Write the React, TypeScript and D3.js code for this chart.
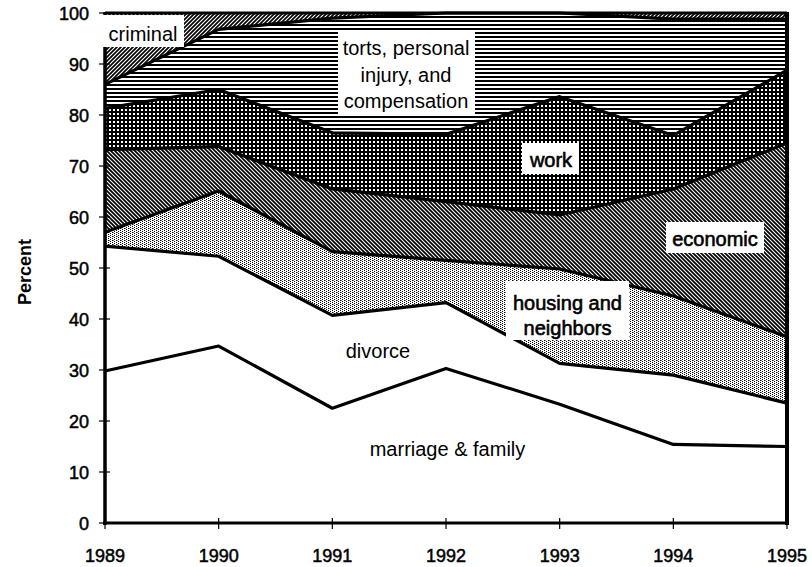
import { useEffect, useRef } from "react";
import * as d3 from "d3";

// share of cases by type, percent of year total (stacked bottom -> top)
const years = [1989, 1990, 1991, 1992, 1993, 1994, 1995];
const marriageFamily = [29.8, 34.7, 22.5, 30.3, 23.3, 15.4, 15.0];
const divorce = [24.5, 17.6, 18.2, 12.9, 8.0, 13.6, 8.5];
const housing = [2.7, 12.8, 12.5, 8.3, 18.5, 15.5, 13.0];
const economic = [16.2, 8.7, 12.3, 11.5, 10.6, 21.0, 38.0];
const work = [8.1, 11.2, 11.0, 13.2, 23.2, 10.5, 14.3];
const torts = [4.7, 11.8, 22.5, 23.8, 16.4, 22.8, 10.0];
const criminal = [14.0, 3.2, 1.0, 0, 0, 1.2, 1.2];

const seriesKeys = ["marriage", "divorce", "housing", "economic", "work", "torts", "criminal"];
const seriesValues = [marriageFamily, divorce, housing, economic, work, torts, criminal];
const seriesFills = ["#fff", "#fff", "url(#dots)", "url(#back)", "url(#grid)", "url(#hlines)", "url(#fwd)"];
const yTicks = [0, 10, 20, 30, 40, 50, 60, 70, 80, 90, 100];

const FONT = "'Liberation Sans', Arial, Helvetica, sans-serif";

const App = () => {
    const container = useRef<HTMLDivElement>(null);

    useEffect(() => {
        document.body.style.margin = "0";
        const el = container.current;
        if (!el) return;
        el.innerHTML = "";

        const W = 812, H = 567;
        const margin = { top: 13, right: 25, bottom: 44, left: 105 };

        const svg = d3.select(el)
            .append("svg")
            .attr("width", W)
            .attr("height", H)
            .style("display", "block")
            .style("font-family", FONT);

        svg.append("rect").attr("width", W).attr("height", H).attr("fill", "#fff");

        const defs = svg.append("defs");

        // forward hatch for criminal
        const fwd = defs.append("pattern").attr("id", "fwd")
            .attr("patternUnits", "userSpaceOnUse").attr("width", 4).attr("height", 4);
        fwd.append("rect").attr("width", 4).attr("height", 4).attr("fill", "#fff");
        fwd.append("path").attr("d", "M-1,1 l2,-2 M0,4 l4,-4 M3,5 l2,-2")
            .attr("stroke", "#000").attr("stroke-width", 1.7);

        // back hatch for economic
        const back = defs.append("pattern").attr("id", "back")
            .attr("patternUnits", "userSpaceOnUse").attr("width", 4).attr("height", 4);
        back.append("rect").attr("width", 4).attr("height", 4).attr("fill", "#fff");
        back.append("path").attr("d", "M-1,3 l2,2 M0,0 l4,4 M3,-1 l2,2")
            .attr("stroke", "#000").attr("stroke-width", 1.8);

        // horizontal lines for torts
        const hl = defs.append("pattern").attr("id", "hlines")
            .attr("patternUnits", "userSpaceOnUse").attr("width", 4).attr("height", 4);
        hl.append("rect").attr("width", 4).attr("height", 4).attr("fill", "#fff");
        hl.append("rect").attr("width", 4).attr("height", 2).attr("fill", "#000");

        // dark grid for work
        const grid = defs.append("pattern").attr("id", "grid")
            .attr("patternUnits", "userSpaceOnUse").attr("width", 4).attr("height", 4);
        grid.append("rect").attr("width", 4).attr("height", 4).attr("fill", "#000");
        grid.append("rect").attr("x", 1).attr("y", 1).attr("width", 2).attr("height", 2).attr("fill", "#fff");

        // light stipple for housing
        const dots = defs.append("pattern").attr("id", "dots")
            .attr("patternUnits", "userSpaceOnUse").attr("width", 4).attr("height", 4);
        dots.append("rect").attr("width", 4).attr("height", 4).attr("fill", "#fff");
        dots.append("rect").attr("x", 0).attr("y", 0).attr("width", 1).attr("height", 1).attr("fill", "#000");
        dots.append("rect").attr("x", 2).attr("y", 1).attr("width", 1).attr("height", 1).attr("fill", "#000");
        dots.append("rect").attr("x", 0).attr("y", 2).attr("width", 1).attr("height", 1).attr("fill", "#000");
        dots.append("rect").attr("x", 2).attr("y", 3).attr("width", 1).attr("height", 1).attr("fill", "#000");
        dots.append("rect").attr("x", 1).attr("y", 0).attr("width", 1).attr("height", 1).attr("fill", "#888");

        const x = d3.scaleLinear()
            .domain([years[0], years[years.length - 1]])
            .range([margin.left, W - margin.right]);

        const y = d3.scaleLinear()
            .domain([0, 100])
            .range([H - margin.bottom, margin.top]);

        const table = years.map((yr, i) => {
            const row: any = { year: yr };
            seriesKeys.forEach((k, j) => { row[k] = seriesValues[j][i]; });
            return row;
        });

        const stacked = d3.stack().keys(seriesKeys)(table);

        const area = d3.area<any>()
            .x((d) => x(d.data.year))
            .y0((d) => y(d[0]))
            .y1((d) => y(d[1]));

        const topLine = d3.line<any>()
            .x((d) => x(d.data.year))
            .y((d) => y(d[1]));

        svg.append("g").selectAll("path")
            .data(stacked)
            .join("path")
            .attr("d", (d) => area(d))
            .attr("fill", (d, i) => seriesFills[i]);

        svg.append("g").selectAll("path")
            .data(stacked)
            .join("path")
            .attr("d", (d) => topLine(d))
            .attr("fill", "none")
            .attr("stroke", "#000")
            .attr("stroke-width", 3.2)
            .attr("stroke-linejoin", "round");

        // frame / axes
        const x0 = x(years[0]), x1 = x(years[years.length - 1]);
        svg.append("line").attr("x1", x0).attr("x2", x0).attr("y1", y(0) + 2).attr("y2", y(100) - 1)
            .attr("stroke", "#000").attr("stroke-width", 3.5);
        svg.append("line").attr("x1", x1).attr("x2", x1).attr("y1", y(0) + 2).attr("y2", y(100) - 1)
            .attr("stroke", "#000").attr("stroke-width", 4);
        svg.append("line").attr("x1", x0 - 2).attr("x2", x1 + 2).attr("y1", y(0)).attr("y2", y(0))
            .attr("stroke", "#000").attr("stroke-width", 3);

        svg.append("g").selectAll("line")
            .data(yTicks)
            .join("line")
            .attr("x1", x0 - 6).attr("x2", x0 + 5)
            .attr("y1", (d) => y(d)).attr("y2", (d) => y(d))
            .attr("stroke", "#000").attr("stroke-width", 1.2);

        svg.append("g").selectAll("line")
            .data(years)
            .join("line")
            .attr("x1", (d) => x(d)).attr("x2", (d) => x(d))
            .attr("y1", y(0) - 5).attr("y2", y(0) + 6)
            .attr("stroke", "#000").attr("stroke-width", 1.2);

        // label boxes
        const box = (bx: number, by: number, bw: number, bh: number) => {
            svg.append("rect").attr("x", bx).attr("y", by).attr("width", bw).attr("height", bh).attr("fill", "#fff");
        };
        const label = (tx: number, ty: number, txt: string, heavy: boolean) => {
            svg.append("text").attr("x", tx).attr("y", ty).text(txt)
                .attr("text-anchor", "middle")
                .attr("fill", "#000")
                .attr("stroke", heavy ? "#000" : "none")
                .attr("stroke-width", heavy ? 0.6 : 0)
                .style("font-size", "20px");
        };

        box(100, 15, 84, 32);
        label(143, 41, "criminal", false);

        box(338, 30, 137, 85);
        label(406, 55, "torts, personal", false);
        label(406, 81.5, "injury, and", false);
        label(406, 108, "compensation", false);

        box(522, 143, 57, 31);
        label(551, 167, "work", true);

        box(666, 222, 98, 31);
        label(715, 246, "economic", true);

        box(506, 281, 123, 59);
        label(567.5, 310, "housing and", true);
        label(567.5, 335, "neighbors", true);

        label(378, 358, "divorce", false);
        label(447.5, 456, "marriage & family", false);

        // tick labels
        svg.append("g").selectAll("text")
            .data(yTicks)
            .join("text")
            .attr("x", 89)
            .attr("y", (d) => y(d) + 6.5)
            .attr("text-anchor", "end")
            .attr("stroke", "#000").attr("stroke-width", 0.5)
            .style("font-size", "18px")
            .text((d) => d);

        svg.append("g").selectAll("text")
            .data(years)
            .join("text")
            .attr("x", (d) => x(d))
            .attr("y", 562)
            .attr("text-anchor", "middle")
            .attr("stroke", "#000").attr("stroke-width", 0.5)
            .style("font-size", "18px")
            .text((d) => d);

        svg.append("text")
            .attr("transform", `translate(31, 272) rotate(-90)`)
            .attr("text-anchor", "middle")
            .style("font-size", "18px").style("font-weight", "bold")
            .text("Percent");
    }, []);

    return (
        <div ref={container}></div>
    );
};

export default App;
